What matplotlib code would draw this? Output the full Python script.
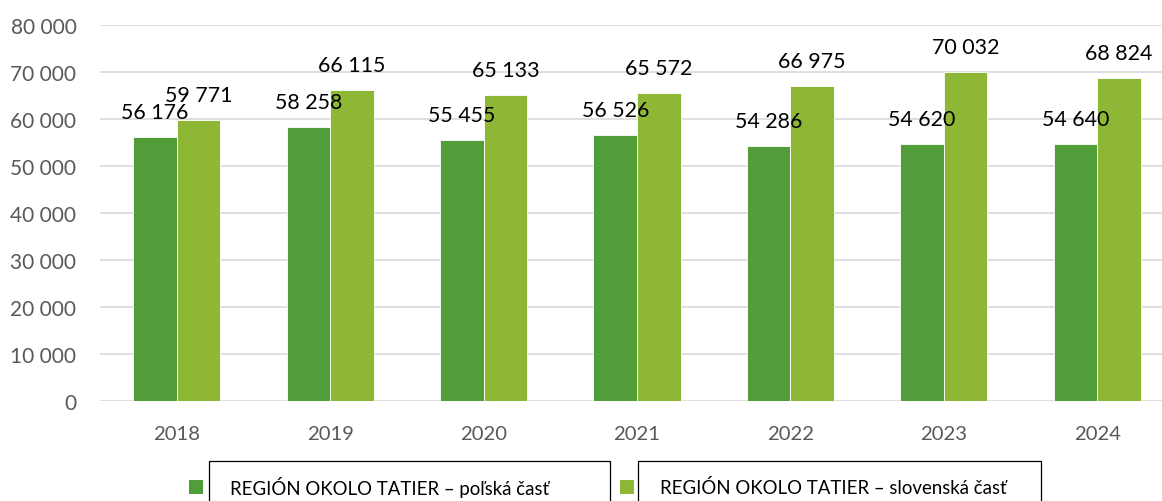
import numpy as np
import matplotlib.pyplot as plt
from matplotlib.patches import Rectangle

years = ['2018', '2019', '2020', '2021', '2022', '2023', '2024']
polska = [56176, 58258, 55455, 56526, 54286, 54620, 54640]
slovenska = [59771, 66115, 65133, 65572, 66975, 70032, 68824]
series_names = ['REGIÓN OKOLO TATIER – poľská časť',
                'REGIÓN OKOLO TATIER – slovenská časť']

dark = '#509D39'
light = '#8DB734'
grey = '#595959'

plt.rcParams['font.family'] = ['Lato', 'DejaVu Sans']

W, H = 1162, 502
fig = plt.figure(figsize=(W / 100, H / 100), dpi=100)
ax = fig.add_axes([100 / W, 100 / H, 1074 / W, 376 / H])

x = np.arange(len(years))
bw = 0.284
b1 = ax.bar(x - bw / 2, polska, bw, color=dark, edgecolor='white', linewidth=0.6, zorder=3)
b2 = ax.bar(x + bw / 2, slovenska, bw, color=light, edgecolor='white', linewidth=0.6, zorder=3)


def fmt(v):
    return f'{v:,}'.replace(',', ' ')


for bars, vals in ((b1, polska), (b2, slovenska)):
    for rect, v in zip(bars, vals):
        ax.annotate(fmt(v), (rect.get_x() + rect.get_width() / 2, v),
                    xytext=(0, 18), textcoords='offset points',
                    ha='center', va='center', fontsize=15.4, color='black', zorder=5)

ax.set_xlim(-0.5, len(years) - 0.5)
ax.set_ylim(0, 80000)
yt = np.arange(0, 80001, 10000)
ax.set_yticks(yt)
ax.set_yticklabels([fmt(v) for v in yt])
ax.set_xticks(x)
ax.set_xticklabels(years)
ax.tick_params(axis='y', length=0, pad=17, labelsize=15, labelcolor=grey)
ax.tick_params(axis='x', length=0, pad=17, labelsize=14.6, labelcolor=grey)
ax.grid(axis='y', color='#D9D9D9', linewidth=1.2, zorder=0)
for s in ax.spines.values():
    s.set_visible(False)

# legend squares, labels and the frames around them
def px(xp, yp):
    return xp / W, 1 - yp / H


for sq_x, box_l, box_r, txt_x, col, name in (
        (189, 209, 610, 230, dark, series_names[0]),
        (620, 638, 1041, 660, light, series_names[1])):
    fig.patches.append(Rectangle(px(sq_x, 495), 14 / W, 14 / H, transform=fig.transFigure,
                                 facecolor=col, edgecolor='none'))
    fig.patches.append(Rectangle(px(box_l, 520), (box_r - box_l) / W, 58 / H,
                                 transform=fig.transFigure, facecolor='none',
                                 edgecolor='black', linewidth=0.9))
    fig.text(*px(txt_x, 488), name, fontsize=13.4, color='black', ha='left', va='center')

fig.savefig('out.png', dpi=100)
